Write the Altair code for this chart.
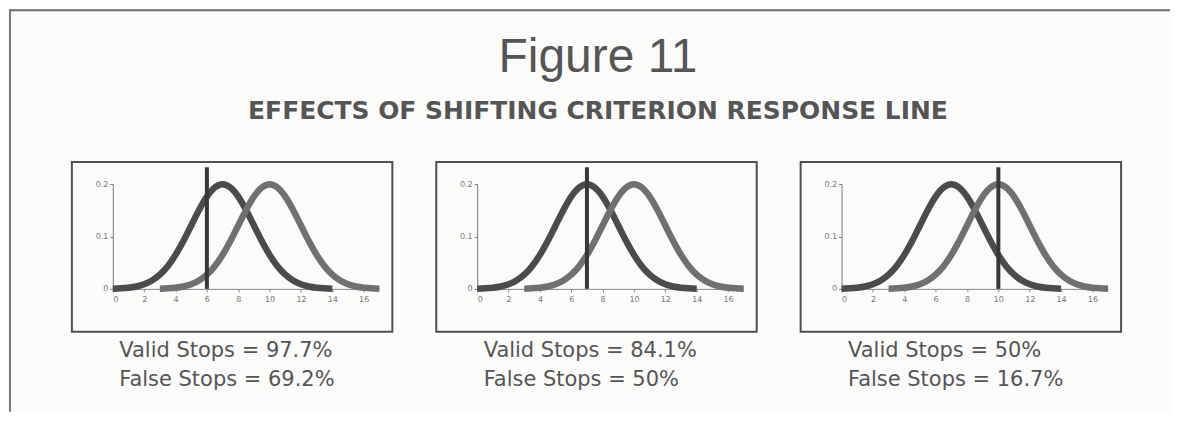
import altair as alt
import pandas as pd

# ---- data ----
x_ticks = [0, 2, 4, 6, 8, 10, 12, 14, 16]
y_ticks = [0, 0.1, 0.2]

# innocent (dark) distribution, peak at 7
dark_x = [0, 0.5, 1, 1.5, 2, 2.5, 3, 3.5, 4, 4.5, 5, 5.5, 6, 6.5, 7,
          7.5, 8, 8.5, 9, 9.5, 10, 10.5, 11, 11.5, 12, 12.5, 13, 13.5, 14]
dark_y = [0.0004, 0.0010, 0.0022, 0.0045, 0.0088, 0.0159, 0.0270, 0.0431, 0.0648, 0.0913,
          0.1210, 0.1506, 0.1760, 0.1933, 0.1995, 0.1933, 0.1760, 0.1506, 0.1210, 0.0913,
          0.0648, 0.0431, 0.0270, 0.0159, 0.0088, 0.0045, 0.0022, 0.0010, 0.0004]

# impaired (grey) distribution, peak at 10
grey_x = [3, 3.5, 4, 4.5, 5, 5.5, 6, 6.5, 7, 7.5, 8, 8.5, 9, 9.5, 10,
          10.5, 11, 11.5, 12, 12.5, 13, 13.5, 14, 14.5, 15, 15.5, 16, 16.5, 17]
grey_y = [0.0004, 0.0010, 0.0022, 0.0045, 0.0088, 0.0159, 0.0270, 0.0431, 0.0648, 0.0913,
          0.1210, 0.1506, 0.1760, 0.1933, 0.1995, 0.1933, 0.1760, 0.1506, 0.1210, 0.0913,
          0.0648, 0.0431, 0.0270, 0.0159, 0.0088, 0.0045, 0.0022, 0.0010, 0.0004]

criteria = [6, 7, 10]
valid_labels = ["Valid Stops = 97.7%", "Valid Stops = 84.1%", "Valid Stops = 50%"]
false_labels = ["False Stops = 69.2%", "False Stops = 50%", "False Stops = 16.7%"]

title_text = "Figure 11"
subtitle_text = "EFFECTS OF SHIFTING CRITERION RESPONSE LINE"

curves = pd.DataFrame(
    {"x": dark_x + grey_x,
     "y": dark_y + grey_y,
     "series": ["dark"] * len(dark_x) + ["grey"] * len(grey_x)}
)

W, H = 267, 105
INK = "#555555"
one = alt.Data(values=[{}])


def x_enc(i):
    return alt.X(
        "x:Q",
        scale=alt.Scale(domain=[0, 17], nice=False, zero=False),
        axis=alt.Axis(
            values=x_ticks, grid=False, domainColor="#888", domainWidth=1,
            tickColor="#888", tickSize=3, labelFont="DejaVu Sans", labelFontSize=8,
            labelColor="#777", labelPadding=4,
            title=[valid_labels[i], false_labels[i]],
            titleFont="DejaVu Sans", titleFontSize=21, titleFontWeight="normal",
            titleColor=INK, titleAlign="left", titleBaseline="alphabetic",
            titleX=6, titleY=68, titleLineHeight=29,
        ),
    )


def y_enc():
    return alt.Y(
        "y:Q",
        scale=alt.Scale(domain=[0, 0.2], nice=False),
        axis=alt.Axis(
            values=y_ticks, format="~g", grid=False, domainColor="#777", domainWidth=1,
            tickColor="#777", tickSize=3, labelFont="DejaVu Sans", labelFontSize=8,
            labelColor="#777", labelPadding=2, title="",
        ),
    )


def panel(i):
    lines = alt.Chart(curves).mark_line(strokeWidth=6.5, interpolate="monotone").encode(
        x=x_enc(i),
        y=y_enc(),
        color=alt.Color("series:N",
                        scale=alt.Scale(domain=["dark", "grey"], range=["#4b4b4b", "#707070"]),
                        legend=None),
    )
    crit = alt.Chart(alt.Data(values=[{"x": criteria[i], "y": 0, "y2": 0.232}])).mark_rule(
        strokeWidth=4, color="#383838"
    ).encode(x=x_enc(i), y=y_enc(), y2="y2:Q")
    box = alt.Chart(one).mark_rect(filled=False, stroke="#4f4f4f", strokeWidth=2).encode(
        x=alt.value(-41), x2=alt.value(280), y=alt.value(-22), y2=alt.value(148)
    )
    layers = [box, lines, crit]
    if i == 0:
        top = alt.Chart(one).mark_rule(color="#6a6a6a", strokeWidth=2).encode(
            x=alt.value(-104), x2=alt.value(1059), y=alt.value(-174)
        )
        left = alt.Chart(one).mark_rule(color="#7a7a7a", strokeWidth=2).encode(
            x=alt.value(-103), y=alt.value(-175), y2=alt.value(228)
        )
        layers += [top, left]
    if i == 1:
        t1 = alt.Chart(one).mark_text(
            font="Liberation Sans", fontSize=48, color=INK, align="center", baseline="alphabetic"
        ).encode(x=alt.value(121), y=alt.value(-112), text=alt.value(title_text))
        t2 = alt.Chart(one).mark_text(
            font="DejaVu Sans", fontSize=25, fontWeight="bold", color=INK, align="center",
            baseline="alphabetic"
        ).encode(x=alt.value(121), y=alt.value(-65), text=alt.value(subtitle_text))
        layers += [t1, t2]
    return alt.layer(*layers).properties(width=W, height=H)


chart = alt.HConcatChart(
    hconcat=[panel(0), panel(1), panel(2)],
    spacing=98,
    bounds="flush",
).properties(padding=0, background="#fbfbfa").configure_view(strokeWidth=0)

chart.save("out.html", embed_options={"renderer": "svg", "actions": False})
